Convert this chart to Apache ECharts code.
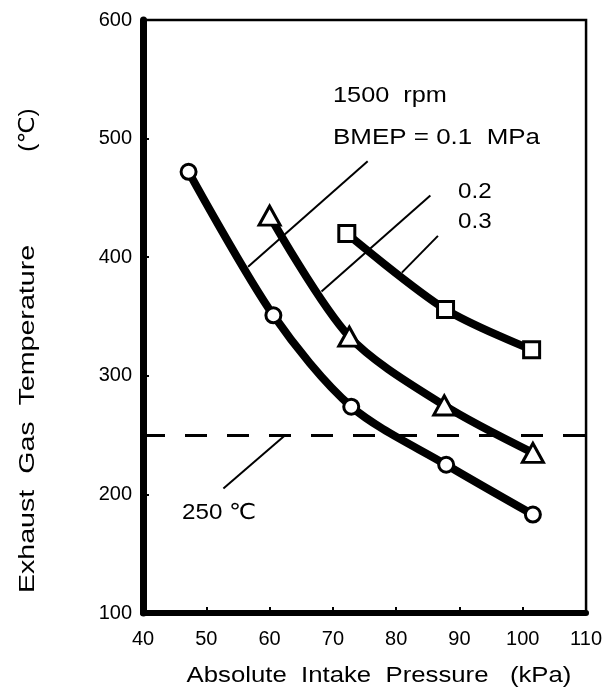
<!DOCTYPE html>
<html>
<head>
<meta charset="utf-8">
<script src="https://cdn.jsdelivr.net/npm/echarts@6/dist/echarts.min.js"></script>
<style>
html,body{margin:0;padding:0;background:#fff;}
#chart{width:605px;height:694px;}
</style>
</head>
<body>
<div id="chart"></div>
<script>
// ---- data ----
const xTicks = [40, 50, 60, 70, 80, 90, 100, 110];
const yTicks = [100, 200, 300, 400, 500, 600];
const seriesNames = ['BMEP 0.1 MPa', 'BMEP 0.2 MPa', 'BMEP 0.3 MPa'];
const bmep01 = [[47.2, 472], [60.6, 351], [72.9, 274], [87.9, 225], [101.6, 183]];
const bmep02 = [[60.0, 435], [72.6, 333], [87.6, 275], [101.6, 235]];
const bmep03 = [[72.2, 420], [87.8, 356], [101.4, 322]];
const limitTemp = 250;
// leader lines for annotations: [x1, y1, x2, y2] in data units
const leader01 = [56.6, 392, 75.5, 481];
const leader02 = [68.2, 371, 85.4, 452];
const leader03 = [80.9, 387, 86.6, 418];
const leader250 = [52.7, 205, 62.5, 250];

const FONT = '"Liberation Sans", Arial, "DejaVu Sans", "Noto Sans CJK JP", sans-serif';
const chart = echarts.init(document.getElementById('chart'), null, {renderer: 'canvas'});

function lineSeries(name, data, symbol, size) {
  return {
    name: name,
    type: 'line',
    data: data,
    smooth: 0.3,
    symbol: symbol,
    symbolSize: size,
    showAllSymbol: true,
    lineStyle: {color: '#000', width: 8},
    itemStyle: {color: '#fff', borderColor: '#000', borderWidth: 3},
    z: 3
  };
}
function leader(l) {
  return [{coord: [l[0], l[1]]}, {coord: [l[2], l[3]]}];
}

const s1 = lineSeries(seriesNames[0], bmep01, 'circle', 15);
const s2 = lineSeries(seriesNames[1], bmep02, 'triangle', [21, 19]);
const s3 = lineSeries(seriesNames[2], bmep03, 'rect', 16);

const annot = {
  name: 'annotations',
  type: 'line',
  data: [],
  z: 1,
  markLine: {
    silent: true,
    symbol: ['none', 'none'],
    animation: false,
    label: {show: false},
    data: [
      [{coord: [xTicks[0], limitTemp], lineStyle: {type: [22, 20], width: 3, color: '#000'}},
       {coord: [xTicks[xTicks.length - 1], limitTemp]}],
      leader(leader01),
      leader(leader02),
      leader(leader03),
      leader(leader250)
    ],
    lineStyle: {color: '#000', width: 2, type: 'solid'}
  }
};

function txt(text, x, y, sx, opts) {
  return {
    type: 'text', x: x, y: y, scaleX: sx || 1,
    style: Object.assign({text: text, fill: '#000', font: '22px ' + FONT, textVerticalAlign: 'middle'}, opts || {})
  };
}
function vtxt(text, x, y, sx) {
  return {
    type: 'text', x: x, y: y, rotation: Math.PI / 2, scaleX: sx || 1,
    style: {text: text, fill: '#000', font: '22px ' + FONT, textAlign: 'center', textVerticalAlign: 'middle'}
  };
}

const option = {
  animation: false,
  backgroundColor: '#fff',
  grid: {left: 143, top: 20, right: 11, bottom: 81, show: true, borderColor: '#000', borderWidth: 2.5},
  xAxis: {
    type: 'value', min: xTicks[0], max: xTicks[xTicks.length - 1], interval: 10,
    axisLine: {show: true, lineStyle: {color: '#000', width: 6}},
    axisTick: {show: true, inside: true, length: 6, lineStyle: {color: '#000', width: 2}},
    axisLabel: {color: '#000', fontSize: 20, fontFamily: FONT, margin: 16},
    splitLine: {show: false}
  },
  yAxis: {
    type: 'value', min: yTicks[0], max: yTicks[yTicks.length - 1], interval: 100,
    axisLine: {show: true, lineStyle: {color: '#000', width: 7}},
    axisTick: {show: true, inside: true, length: 6, lineStyle: {color: '#000', width: 2}},
    axisLabel: {color: '#000', fontSize: 20, fontFamily: FONT, margin: 11},
    splitLine: {show: false}
  },
  series: [annot, s1, s2, s3],
  graphic: [
    txt('1500  rpm', 333, 96, 1.15),
    txt('BMEP = 0.1  MPa', 333, 138, 1.18),
    txt('0.2', 458, 192, 1.1),
    txt('0.3', 458, 222, 1.1),
    txt('250 ℃', 182, 513, 1.1),
    txt('Absolute  Intake  Pressure   (kPa)', 379, 676, 1.17, {textAlign: 'center'}),
    vtxt('Exhaust  Gas  Temperature', 28, 419, 1.3),
    vtxt('(℃)', 28, 130, 1.1)
  ]
};
chart.setOption(option);
</script>
</body>
</html>
